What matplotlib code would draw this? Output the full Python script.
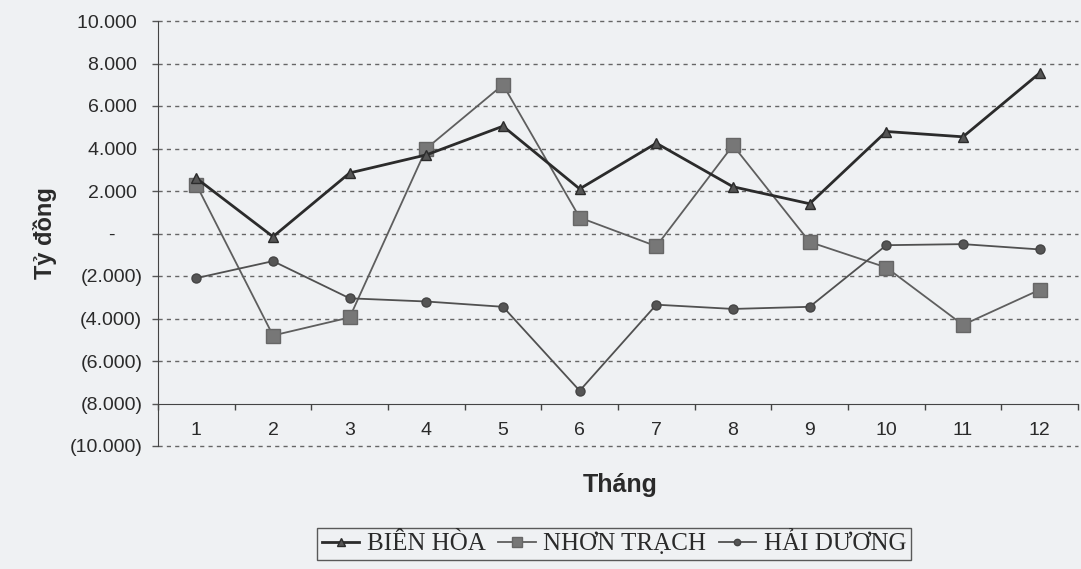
import numpy as np
import matplotlib
matplotlib.use("Agg")
import matplotlib.pyplot as plt
from matplotlib.ticker import FuncFormatter, FixedLocator

# du lieu doc tu hinh (don vi: trieu dong)
thang = list(range(1, 13))
bien_hoa = [2600, -150, 2850, 3700, 5050, 2100, 4250, 2200, 1400, 4800, 4550, 7550]
nhon_trach = [2300, -4800, -3950, 4000, 7000, 750, -600, 4150, -400, -1600, -4300, -2650]
hai_duong = [-2100, -1300, -3050, -3200, -3450, -7400, -3350, -3550, -3450, -550, -500, -750]
y_ticks = list(range(-10000, 10001, 2000))

bg = '#eff1f3'
txt = '#2a2a2a'

plt.rcParams['font.family'] = ['Liberation Sans', 'DejaVu Sans']

fig = plt.figure(figsize=(10.81, 5.69), dpi=100, facecolor=bg)
ax = fig.add_axes([158/1081, 123/569, 920/1081, 425/569])
ax.set_facecolor(bg)

ax.plot(thang, bien_hoa, color='#2b2b2b', lw=2, marker='^', ms=7.5,
        mfc='#555555', mec='#2b2b2b', label='BIÊN HÒA', zorder=4)
ax.plot(thang, nhon_trach, color='#5e5e5e', lw=1.3, marker='s', ms=10,
        mfc='#777777', mec='#666666', label='NHƠN TRẠCH', zorder=3)
ax.plot(thang, hai_duong, color='#505050', lw=1.3, marker='o', ms=6.5,
        mfc='#555555', mec='#444444', label='HẢI DƯƠNG', zorder=3)

ax.set_xlim(0.5, 12.5)
ax.set_ylim(-10000, 10000)

# luoi ngang net dut
for v in y_ticks:
    if v != -8000:
        ax.axhline(v, color='#666666', lw=1, ls=(0, (3, 3)), clip_on=False, zorder=1)

for s in ['top', 'right']:
    ax.spines[s].set_visible(False)
ax.spines['left'].set_color('#444444')
ax.spines['bottom'].set_position(('data', -8000))
ax.spines['bottom'].set_color('#444444')

def fmt(v, pos):
    v = int(round(v))
    if v == 0:
        return '-     '
    s = f'{abs(v):,}'.replace(',', '.')
    return f'({s})' if v < 0 else s + ' '

ax.yaxis.set_major_locator(FixedLocator(y_ticks))
ax.yaxis.set_major_formatter(FuncFormatter(fmt))
ax.tick_params(axis='y', direction='out', length=4.3, width=1, color='#555555',
               pad=7, labelsize=14, labelcolor=txt)

ax.xaxis.set_major_locator(FixedLocator(np.arange(0.5, 12.6, 1)))
ax.xaxis.set_minor_locator(FixedLocator(thang))
ax.xaxis.set_major_formatter(FuncFormatter(lambda v, p: ''))
ax.xaxis.set_minor_formatter(FuncFormatter(lambda v, p: str(int(v))))
ax.tick_params(axis='x', which='major', direction='out', length=4, width=1, color='#444444')
ax.tick_params(axis='x', which='minor', length=0, pad=13, labelsize=14, labelcolor=txt)

ax.set_ylabel('Tỷ đồng', fontsize=17, fontweight='bold', color=txt)
ax.yaxis.set_label_coords(-0.11, 0.5)
fig.text(620/1081, 1 - 485/569, 'Tháng', fontsize=18, fontweight='bold',
         color=txt, ha='center', va='center')

leg = fig.legend(loc='center', bbox_to_anchor=(614/1081, 1 - 544/569), ncol=3,
                 prop={'family': 'Liberation Serif', 'size': 18},
                 frameon=True, fancybox=False, handlelength=1.5, handletextpad=0.3,
                 columnspacing=0.5, borderpad=0.2, markerscale=0.7)
leg.get_frame().set_edgecolor('#333333')
leg.get_frame().set_facecolor(bg)
leg.get_frame().set_linewidth(1)
for t in leg.get_texts():
    t.set_color(txt)

fig.savefig('out.png', dpi=100, facecolor=bg)
